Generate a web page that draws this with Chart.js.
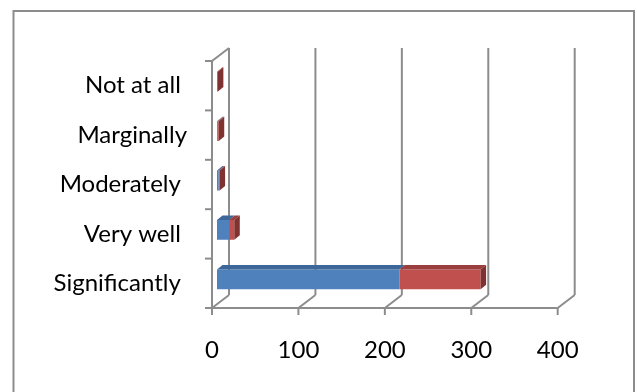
<!DOCTYPE html>
<html>
<head>
<meta charset="utf-8">
<script src="https://cdn.jsdelivr.net/npm/chart.js@4.4.1/dist/chart.umd.min.js"></script>
<style>
  html, body { margin: 0; padding: 0; background: #fff; }
  #chart { display: block; }
</style>
</head>
<body>
<canvas id="chart" width="637" height="392"></canvas>
<script>
// categories listed bottom to top (y axis is reversed)
const categories = ["Significantly ", "Very well ", "Moderately ", "Marginally", "Not at all "];
const blueValues = [211, 14, 2, 1, 0];
const redValues = [94, 6, 1, 1, 1];
const xTicks = [0, 100, 200, 300, 400];

// chart area is the plane the bar fronts sit in; the front wall is offset from it
const FRONT_DX = -5, FRONT_DY = 4;
const WALL_DX = 17, WALL_DY = -13;
const BAR_DX = 5.5, BAR_DY = -4.5;
const LINE = "#8c8c8c";

const faceColors = [
  { top: "#3d6799", side: "#34577f" },
  { top: "#9a3f3d", side: "#7f3230" }
];

function line(ctx, x1, y1, x2, y2) {
  ctx.beginPath();
  ctx.moveTo(x1, y1);
  ctx.lineTo(x2, y2);
  ctx.stroke();
}

function poly(ctx, pts, color) {
  ctx.beginPath();
  ctx.moveTo(pts[0][0], pts[0][1]);
  pts.slice(1).forEach(p => ctx.lineTo(p[0], p[1]));
  ctx.closePath();
  ctx.fillStyle = color;
  ctx.fill();
}

const framePlugin = {
  id: "frame3d",
  beforeDraw(chart) {
    const ctx = chart.ctx;
    ctx.save();
    ctx.strokeStyle = LINE;
    ctx.lineWidth = 2;
    ctx.strokeRect(13.5, 11, 620.5, 420);
    ctx.restore();
  },
  beforeDatasetsDraw(chart) {
    const ctx = chart.ctx;
    const xs = chart.scales.x;
    const area = chart.chartArea;
    const fTop = area.top + FRONT_DY;
    const fBot = area.bottom + FRONT_DY;
    const bTop = fTop + WALL_DY;
    const bBot = fBot + WALL_DY;
    const fx = v => xs.getPixelForValue(v) + FRONT_DX;

    ctx.save();
    ctx.strokeStyle = LINE;
    ctx.lineWidth = 2;
    ctx.lineCap = "butt";

    // back wall gridlines and floor diagonals
    xTicks.forEach(v => {
      const x = fx(v);
      line(ctx, x + WALL_DX, bTop, x + WALL_DX, bBot);
      line(ctx, x, fBot, x + WALL_DX, bBot);
      line(ctx, x, fBot, x, fBot + 7);
    });

    // left wall
    const x0 = fx(0);
    line(ctx, x0, fTop, x0, fBot);
    line(ctx, x0, fTop, x0 + WALL_DX, bTop);

    // category ticks on the front edge
    const n = categories.length;
    const step = (fBot - fTop) / n;
    for (let i = 0; i <= n; i++) {
      const y = fTop + i * step;
      line(ctx, x0 - 7, y, x0, y);
    }

    // value axis
    line(ctx, x0 - 7, fBot, fx(xTicks[xTicks.length - 1]), fBot);
    ctx.restore();
  },
  afterDatasetsDraw(chart) {
    // top faces for every segment, side face only on the outermost one
    const ctx = chart.ctx;
    const metas = [0, 1].map(i => chart.getDatasetMeta(i));
    ctx.save();
    categories.forEach((c, j) => {
      let last = null;
      metas.forEach((meta, i) => {
        const p = meta.data[j].getProps(["x", "y", "base", "height"], true);
        const left = Math.min(p.x, p.base);
        const right = Math.max(p.x, p.base);
        if (right - left < 0.01) return;
        const top = p.y - p.height / 2;
        poly(ctx, [[left, top], [right, top], [right + BAR_DX, top + BAR_DY], [left + BAR_DX, top + BAR_DY]], faceColors[i].top);
        last = { right, top, bottom: p.y + p.height / 2, i };
      });
      if (last) {
        const { right, top, bottom, i } = last;
        poly(ctx, [[right, top], [right + BAR_DX, top + BAR_DY], [right + BAR_DX, bottom + BAR_DY], [right, bottom]], faceColors[i].side);
      }
    });
    ctx.restore();
  }
};

const tickFont = { family: "Lato", size: 24 };

new Chart(document.getElementById("chart"), {
  type: "bar",
  data: {
    labels: categories,
    datasets: [
      { label: "Series 1", data: blueValues, backgroundColor: "#4f81bd", borderWidth: 0 },
      { label: "Series 2", data: redValues, backgroundColor: "#c0504d", borderWidth: 0 }
    ]
  },
  options: {
    indexAxis: "y",
    responsive: false,
    animation: false,
    devicePixelRatio: 1,
    layout: { padding: { left: 0, top: 57, right: 74.3, bottom: 0 } },
    datasets: { bar: { categoryPercentage: 1, barPercentage: 0.4 } },
    plugins: { legend: { display: false }, tooltip: { enabled: false } },
    scales: {
      x: {
        stacked: true,
        min: 0,
        max: 400,
        grid: { display: false, drawTicks: false },
        border: { display: false },
        ticks: { stepSize: 100, color: "#000", font: tickFont, padding: 32, labelOffset: FRONT_DX, maxRotation: 0 },
        afterFit(scale) { scale.height = 88; }
      },
      y: {
        stacked: true,
        reverse: true,
        grid: { display: false, drawTicks: false },
        border: { display: false },
        ticks: { color: "#000", font: tickFont, padding: 30, labelOffset: FRONT_DY },
        afterFit(scale) { scale.width = 217; }
      }
    }
  },
  plugins: [framePlugin]
});
</script>
</body>
</html>
